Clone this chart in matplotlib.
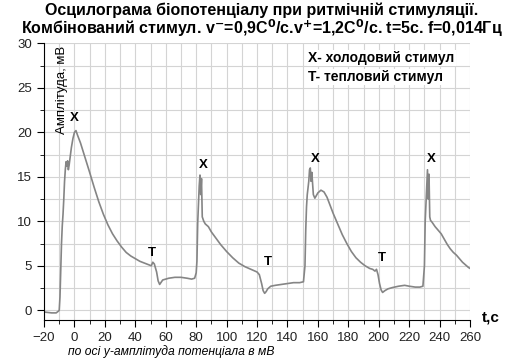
import matplotlib.pyplot as plt
from matplotlib.ticker import MultipleLocator

plt.rcParams['font.family'] = ['Liberation Sans', 'DejaVu Sans']

# oscillogram: time (s) and amplitude (mV)
t = [-20, -15, -12, -10.5, -10, -9.5, -9, -8.5, -8, -7.5, -7, -6.5, -6, -5.5, -5, -4.5,
     -4, -3.5, -3, -2, -1, 0, 1, 2, 4, 6, 8, 10, 13, 16, 19, 22, 25, 28, 31, 34, 37, 40,
     43, 46, 49, 50.5, 51.5, 52.5, 54, 55, 56, 58, 62, 66, 70, 74, 77, 79,
     80, 80.5, 81, 81.5, 82, 82.5, 83, 83.5, 84, 85, 86, 88, 90, 93, 96, 100, 104, 108,
     112, 116, 120, 121.5, 123, 124, 125, 126, 127, 129, 132, 136, 140, 144, 148, 150.5,
     151.5, 152, 152.5, 153, 154, 154.5, 155, 155.5, 156, 157, 158, 160, 162, 164, 166,
     168, 170, 173, 176, 179, 182, 185, 188, 191, 194, 196, 197.5, 198.5, 199.5, 200.5,
     201.5, 202.5, 204, 206, 209, 213, 217, 220, 224, 227, 229,
     230, 230.5, 231, 231.5, 232, 232.5, 233, 233.5, 234, 235, 237, 239, 241, 243, 245,
     247, 249, 251, 253, 255, 257, 259, 260]
v = [-0.2, -0.3, -0.3, -0.1, 0.0, 1.5, 4.5, 7.5, 9.5, 10.8, 12.5, 14.5, 15.8, 16.7, 16.2, 16.8,
     15.8, 16.3, 17.0, 18.3, 19.3, 20.0, 20.2, 19.7, 18.8, 17.7, 16.6, 15.5, 13.8, 12.2, 10.8,
     9.6, 8.6, 7.8, 7.1, 6.5, 6.1, 5.8, 5.5, 5.3, 5.1, 5.0, 5.4, 5.2, 4.3, 3.3, 2.9, 3.4, 3.6,
     3.7, 3.7, 3.6, 3.5, 3.6,
     4.2, 5.5, 9.8, 12.0, 14.0, 15.2, 13.0, 14.8, 10.5, 10.0, 9.7, 9.4, 8.8, 8.1, 7.4, 6.6,
     5.9, 5.3, 4.9, 4.6, 4.3, 4.0, 3.0, 2.2, 1.9, 2.1, 2.4, 2.7, 2.8, 2.9, 3.0, 3.1, 3.1, 3.2,
     5.0, 9.0, 11.6, 13.0, 14.5, 15.8, 16.0, 14.5, 15.5, 13.0, 12.6, 13.2, 13.5, 13.3, 12.7,
     11.8, 10.9, 9.7, 8.5, 7.5, 6.6, 5.9, 5.4, 5.0, 4.7, 4.6, 4.4, 4.6, 4.0, 3.0,
     2.3, 2.0, 2.2, 2.4, 2.55, 2.7, 2.8, 2.7, 2.6, 2.6, 2.7,
     5.0, 10.0, 12.0, 14.0, 15.8, 12.5, 15.3, 10.5, 10.1, 9.9, 9.4, 9.0, 8.6, 8.0, 7.4,
     6.9, 6.5, 6.2, 5.8, 5.4, 5.1, 4.8, 4.7]

# stimulus marks
mark_t = [0, 51, 84.5, 127, 158, 202, 234.5]
mark_v = [21.6, 6.4, 16.3, 5.4, 17.0, 5.85, 17.0]
mark_lbl = ['X', 'T', 'X', 'T', 'X', 'T', 'X']

fig = plt.figure(figsize=(5.27, 3.62), dpi=100)
ax = fig.add_axes([0.0835, 0.116, 0.8085, 0.764])

ax.plot(t, v, color='#858585', lw=1.2)

for mt, mv, ml in zip(mark_t, mark_v, mark_lbl):
    ax.text(mt, mv, ml, ha='center', va='center', fontsize=9.5, fontweight='bold')

ax.set_xlim(-20, 260)
ax.set_ylim(-1.1, 30)
ax.xaxis.set_major_locator(MultipleLocator(20))
ax.xaxis.set_minor_locator(MultipleLocator(10))
ax.yaxis.set_major_locator(MultipleLocator(5))
ax.yaxis.set_minor_locator(MultipleLocator(2.5))
ax.grid(which='both', color='#d4d4d4', lw=0.8)
ax.set_axisbelow(True)
for s in ['top', 'right']:
    ax.spines[s].set_visible(False)
ax.tick_params(which='major', length=5, labelsize=9.5, color='black', labelcolor='#222222')
ax.tick_params(which='minor', length=3)

ax.text(-8.4, 24.8, 'Амплітуда, мВ', rotation=90, ha='center', va='center', fontsize=9.5)
box = dict(facecolor='white', edgecolor='none', pad=1)
fig.text(308 / 527, 1 - 58 / 362, 'X- холодовий стимул', ha='left', va='center',
         fontsize=10, fontweight='bold', bbox=box)
fig.text(308 / 527, 1 - 77 / 362, 'T- тепловий стимул', ha='left', va='center',
         fontsize=10, fontweight='bold', bbox=box)

fig.text(0.497, 1 - 10 / 362, 'Осцилограма біопотенціалу при ритмічній стимуляції.',
         ha='center', va='center', fontsize=11.5, fontweight='bold')
fig.text(0.497, 1 - 28 / 362,
         'Комбінований стимул. v$^{\\mathbf{-}}$=0,9С$^{\\mathbf{0}}$/с.v$^{\\mathbf{+}}$=1,2С$^{\\mathbf{0}}$/с. t=5с. f=0,014Гц',
         ha='center', va='center', fontsize=11.5, fontweight='bold')
fig.text(491 / 527, 1 - 318 / 362, 't,c', ha='center', va='center', fontsize=11, fontweight='bold')
fig.text(68 / 527, 1 - 352 / 362, 'по осі у-амплітуда потенціала в мВ',
         ha='left', va='center', fontsize=8.7, style='italic')

fig.savefig('out.png', dpi=100)
